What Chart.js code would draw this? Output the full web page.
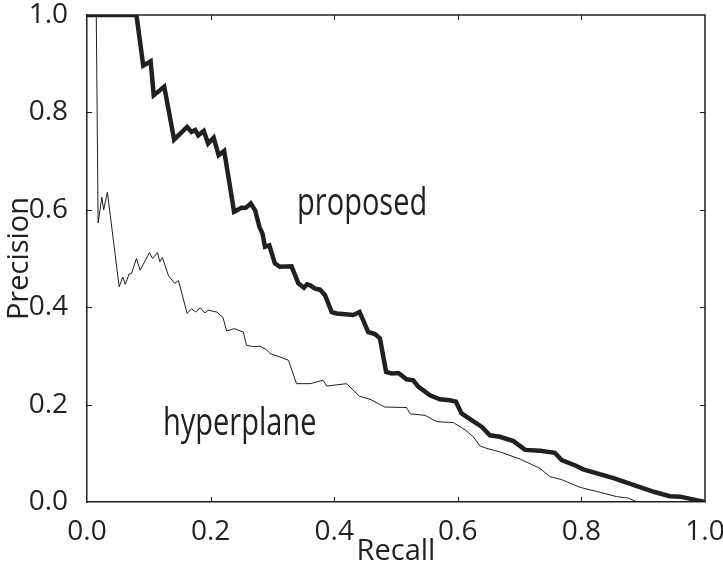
<!DOCTYPE html>
<html>
<head>
<meta charset="utf-8">
<script src="https://cdn.jsdelivr.net/npm/chart.js@4"></script>
<style>
  html, body { margin: 0; padding: 0; background: #fff; }
</style>
</head>
<body>
<canvas id="prChart" width="723" height="573"></canvas>
<script>
// values
const proposedRecall = [0, 0.080, 0.091, 0.103, 0.108, 0.125, 0.141, 0.162, 0.169, 0.175, 0.180, 0.189, 0.196, 0.205, 0.213, 0.222, 0.238, 0.250, 0.257, 0.265, 0.272, 0.279, 0.284, 0.288, 0.295, 0.304, 0.312, 0.331, 0.342, 0.351, 0.356, 0.361, 0.369, 0.377, 0.385, 0.396, 0.404, 0.431, 0.441, 0.447, 0.455, 0.466, 0.474, 0.484, 0.493, 0.504, 0.517, 0.528, 0.536, 0.555, 0.571, 0.587, 0.597, 0.606, 0.639, 0.652, 0.668, 0.690, 0.709, 0.733, 0.757, 0.768, 0.792, 0.803, 0.852, 0.884, 0.917, 0.943, 0.960, 1.0];
const proposedPrecision = [1, 1, 0.896, 0.905, 0.835, 0.853, 0.744, 0.770, 0.760, 0.764, 0.753, 0.762, 0.736, 0.748, 0.712, 0.721, 0.596, 0.604, 0.604, 0.613, 0.599, 0.565, 0.551, 0.524, 0.527, 0.490, 0.483, 0.484, 0.449, 0.440, 0.447, 0.445, 0.438, 0.436, 0.425, 0.390, 0.387, 0.384, 0.390, 0.373, 0.349, 0.345, 0.336, 0.267, 0.264, 0.265, 0.252, 0.250, 0.237, 0.219, 0.211, 0.209, 0.206, 0.182, 0.154, 0.137, 0.134, 0.125, 0.107, 0.105, 0.101, 0.086, 0.074, 0.067, 0.049, 0.035, 0.021, 0.012, 0.011, 0.0];

const hyperRecall = [0, 0.015, 0.018, 0.024, 0.027, 0.033, 0.052, 0.058, 0.062, 0.068, 0.072, 0.080, 0.086, 0.101, 0.106, 0.114, 0.118, 0.122, 0.132, 0.142, 0.148, 0.162, 0.169, 0.176, 0.183, 0.191, 0.196, 0.210, 0.220, 0.226, 0.238, 0.253, 0.258, 0.269, 0.280, 0.290, 0.297, 0.312, 0.326, 0.339, 0.361, 0.382, 0.388, 0.420, 0.441, 0.458, 0.482, 0.517, 0.523, 0.547, 0.566, 0.593, 0.612, 0.625, 0.636, 0.647, 0.668, 0.701, 0.733, 0.749, 0.768, 0.798, 0.830, 0.857, 0.876, 0.890, 1.0];
const hyperPrecision = [1, 1, 0.573, 0.626, 0.600, 0.636, 0.442, 0.462, 0.447, 0.468, 0.469, 0.500, 0.476, 0.512, 0.500, 0.512, 0.493, 0.502, 0.464, 0.449, 0.455, 0.387, 0.397, 0.390, 0.399, 0.388, 0.394, 0.390, 0.379, 0.351, 0.356, 0.349, 0.322, 0.319, 0.320, 0.313, 0.304, 0.298, 0.291, 0.243, 0.243, 0.250, 0.238, 0.243, 0.217, 0.211, 0.195, 0.194, 0.181, 0.178, 0.165, 0.163, 0.148, 0.134, 0.115, 0.110, 0.103, 0.088, 0.069, 0.052, 0.046, 0.030, 0.020, 0.011, 0.008, 0, 0];

const tickValues = [0, 0.2, 0.4, 0.6, 0.8, 1.0];

// text labels placed in data coordinates (left edge, baseline)
const labelNames = ['proposed', 'hyperplane'];
const labelRecall = [0.340, 0.123];
const labelPrecision = [0.590, 0.137];

const ink = '#231f20';
const fontFamily = '"Open Sans", "DejaVu Sans", sans-serif';

function toPoints(xs, ys) {
    return xs.map((x, i) => ({ x: x, y: ys[i] }));
}

// drop the half-label overflow padding so the plot box lands where it should
function noOverflow(scale) {
    scale.paddingTop = 0;
    scale.paddingBottom = 0;
    scale.paddingLeft = 0;
    scale.paddingRight = 0;
}

// box on top/right + inward tick marks, plus the curve labels
const framePlugin = {
    id: 'frameAndLabels',
    afterDatasetsDraw: chart => {
        const { ctx, chartArea } = chart;
        const xs = chart.scales.x;
        const ys = chart.scales.y;
        ctx.save();
        ctx.strokeStyle = ink;
        ctx.lineWidth = 1.5;
        ctx.beginPath();
        ctx.moveTo(chartArea.left, chartArea.top);
        ctx.lineTo(chartArea.right, chartArea.top);
        ctx.lineTo(chartArea.right, chartArea.bottom);
        ctx.stroke();

        ctx.lineWidth = 1;
        const len = 5;
        tickValues.slice(1, -1).forEach(v => {
            const px = Math.round(xs.getPixelForValue(v)) + 0.5;
            const py = Math.round(ys.getPixelForValue(v)) + 0.5;
            ctx.beginPath();
            ctx.moveTo(px, chartArea.bottom); ctx.lineTo(px, chartArea.bottom - len);
            ctx.moveTo(px, chartArea.top); ctx.lineTo(px, chartArea.top + len);
            ctx.moveTo(chartArea.left, py); ctx.lineTo(chartArea.left + len, py);
            ctx.moveTo(chartArea.right, py); ctx.lineTo(chartArea.right - len, py);
            ctx.stroke();
        });

        // the original lettering is a bit tall for its width
        ctx.fillStyle = ink;
        ctx.font = '29px ' + fontFamily;
        ctx.textAlign = 'left';
        ctx.textBaseline = 'alphabetic';
        labelNames.forEach((name, i) => {
            ctx.save();
            ctx.translate(xs.getPixelForValue(labelRecall[i]), ys.getPixelForValue(labelPrecision[i]));
            ctx.scale(1, 1.3);
            ctx.fillText(name, 0, 0);
            ctx.restore();
        });
        ctx.restore();
    }
};

const ctx = document.getElementById('prChart').getContext('2d');

const prChart = new Chart(ctx, {
    type: 'line',
    data: {
        datasets: [{
            label: 'proposed',
            data: toPoints(proposedRecall, proposedPrecision),
            borderColor: ink,
            borderWidth: 4.5,
            pointRadius: 0,
            tension: 0,
            fill: false
        }, {
            label: 'hyperplane',
            data: toPoints(hyperRecall, hyperPrecision),
            borderColor: ink,
            borderWidth: 1,
            pointRadius: 0,
            tension: 0,
            fill: false
        }]
    },
    options: {
        responsive: false,
        animation: false,
        events: [],
        layout: {
            autoPadding: false,
            padding: { top: 15, right: 18, left: 0, bottom: 0 }
        },
        plugins: {
            legend: { display: false },
            tooltip: { enabled: false }
        },
        scales: {
            x: {
                type: 'linear',
                min: 0,
                max: 1,
                afterFit: scale => { scale.height = 71; noOverflow(scale); },
                afterBuildTicks: scale => { scale.ticks = tickValues.map(v => ({ value: v })); },
                ticks: {
                    color: ink,
                    font: { family: fontFamily, size: 28 },
                    padding: 5,
                    maxRotation: 0,
                    callback: v => v.toFixed(1)
                },
                grid: { display: false },
                border: { display: true, color: ink, width: 1.5 },
                title: {
                    display: true,
                    text: 'Recall',
                    color: ink,
                    font: { family: fontFamily, size: 29 },
                    padding: { top: 0, bottom: 4 }
                }
            },
            y: {
                type: 'linear',
                min: 0,
                max: 1,
                afterFit: scale => { scale.width = 87; noOverflow(scale); },
                afterBuildTicks: scale => { scale.ticks = tickValues.map(v => ({ value: v })); },
                ticks: {
                    color: ink,
                    font: { family: fontFamily, size: 28 },
                    padding: 11,
                    callback: v => v.toFixed(1)
                },
                grid: { display: false },
                border: { display: true, color: ink, width: 1.5 },
                title: {
                    display: true,
                    text: 'Precision',
                    color: ink,
                    font: { family: fontFamily, size: 29 },
                    padding: { top: 2, bottom: 0 }
                }
            }
        }
    },
    plugins: [framePlugin]
});
</script>
</body>
</html>
